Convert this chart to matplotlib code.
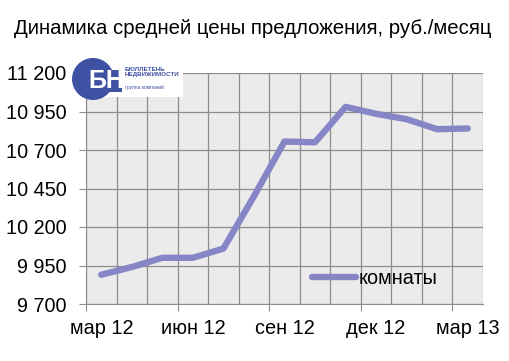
import matplotlib.pyplot as plt
from matplotlib.patches import Circle, Rectangle
from matplotlib.ticker import FuncFormatter

plt.rcParams['font.family'] = ['Liberation Sans', 'DejaVu Sans']

# monthly average offer price, rooms
months = ['мар 12', 'апр 12', 'май 12', 'июн 12', 'июл 12', 'авг 12', 'сен 12',
          'окт 12', 'ноя 12', 'дек 12', 'янв 13', 'фев 13', 'мар 13']
rooms = [9890, 9940, 10000, 10000, 10060, 10400, 10755,
         10750, 10980, 10935, 10900, 10835, 10840]
label_months = ['мар 12', 'июн 12', 'сен 12', 'дек 12', 'мар 13']

fig = plt.figure(figsize=(5.1, 3.61), dpi=100)
ax = fig.add_axes([86 / 510, 1 - 304 / 361, 397 / 510, 231 / 361])
ax.set_facecolor('#ebebeb')

x = list(range(len(months)))
ax.plot(x, rooms, color='#8686c6', lw=4.6, solid_capstyle='round',
        solid_joinstyle='round', label='комнаты', zorder=3)

ax.set_xlim(-0.5, len(months) - 0.5)
ax.set_ylim(9700, 11200)
ax.set_yticks(range(9700, 11201, 250))
ax.yaxis.set_major_formatter(FuncFormatter(lambda v, p: f'{int(v):,}'.replace(',', ' ')))
ax.grid(axis='y', color='#8c8c8c', lw=0.9)
for b in range(len(months) + 1):
    ax.axvline(b - 0.5, color='#8c8c8c', lw=0.9, zorder=1)

# ticks at category boundaries, labels centred on the category
ax.set_xticks([i - 0.5 for i in range(0, len(months) + 1, 3)])
ax.set_xticklabels([])
ax.set_xticks([months.index(m) for m in label_months], minor=True)
ax.set_xticklabels(label_months, minor=True)
ax.tick_params(axis='x', which='major', length=5, color='#8c8c8c')
ax.tick_params(axis='x', which='minor', length=0, labelsize=14.3, pad=11)
ax.tick_params(axis='y', length=5, color='#8c8c8c', labelsize=14.3, pad=9)
for s in ax.spines.values():
    s.set_visible(False)
ax.spines['bottom'].set_visible(True)
ax.spines['bottom'].set_color('#8c8c8c')
ax.spines['left'].set_visible(True)
ax.spines['left'].set_color('#8c8c8c')

ax.legend(loc='center left', bbox_to_anchor=(0.525, 0.11), frameon=False,
          fontsize=14.3, handlelength=2.2, handletextpad=0.12)

fig.text(0.495, 1 - 28 / 361, 'Динамика средней цены предложения, руб./месяц',
         ha='center', va='center', fontsize=14.7)

# logo
fig.patches.append(Rectangle((88, 361 - 97), 95, 25, transform=None,
                             facecolor='white', edgecolor='none', zorder=5))
fig.patches.append(Circle((93, 361 - 79), 21, transform=None,
                          facecolor='#3f51a3', edgecolor='none', zorder=6))
fig.patches.append(Rectangle((93, 361 - 92), 29, 22, transform=None,
                             facecolor='#3f51a3', edgecolor='none', zorder=6))
fig.text(106 / 510, 1 - 81 / 361, 'БН', ha='center', va='center', fontsize=18,
         fontweight='bold', color='white', zorder=7)
fig.text(125 / 510, 1 - 72 / 361, 'БЮЛЛЕТЕНЬ\nНЕДВИЖИМОСТИ', ha='left', va='center',
         fontsize=4.5, fontweight='bold', color='#3f51a3', linespacing=0.9, zorder=7)
fig.text(125 / 510, 1 - 87 / 361, 'группа компаний', ha='left', va='center',
         fontsize=3.5, color='#3f51a3', zorder=7)

fig.savefig('out.png', dpi=100)
